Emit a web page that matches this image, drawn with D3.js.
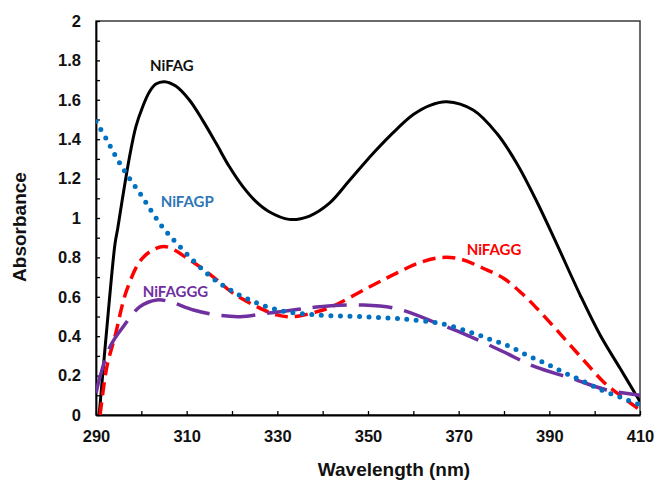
<!DOCTYPE html>
<html>
<head>
<meta charset="utf-8">
<script src="https://cdn.jsdelivr.net/npm/d3@7"></script>
<style>
  html, body { margin: 0; padding: 0; background: #fff; }
  svg { display: block; }
</style>
</head>
<body>
<svg id="chart" width="655" height="481"></svg>
<script>
// Absorption spectra of the four nickel complexes (wavelength in nm, absorbance)
const nifagWl  = [290.7, 292.7, 294.2, 294.8, 295.9, 297.4, 298.8, 300.3, 301.8, 303.2, 305.1, 307.6, 310.6, 313.5, 316.5, 319.4, 322.4, 325.3, 328.2, 332.6, 337.1, 341.5, 345.9, 351.2, 356.3, 360, 363.7, 367.4, 373.2, 378.4, 382.8, 387.2, 391.6, 396.8, 401.2, 405.6, 410];
const nifagAbs = [0, 0.52, 0.87, 0.948, 1.108, 1.311, 1.464, 1.565, 1.641, 1.68, 1.692, 1.67, 1.599, 1.497, 1.379, 1.261, 1.159, 1.083, 1.032, 0.993, 1.01, 1.075, 1.19, 1.33, 1.45, 1.525, 1.572, 1.59, 1.548, 1.43, 1.278, 1.085, 0.87, 0.609, 0.406, 0.237, 0.068];

const nifaggWl  = [290.9, 292.4, 294.2, 296.8, 300.4, 305, 310.7, 315.9, 320.3, 325.5, 329.9, 333.5, 338.7, 341.6, 350.4, 356.3, 361, 365.9, 370.3, 375.4, 379.9, 383.9, 387.6, 391.3, 394.6, 398.2, 401.9, 405.6, 410];
const nifaggAbs = [0, 0.245, 0.40, 0.635, 0.80, 0.855, 0.787, 0.70, 0.617, 0.55, 0.508, 0.499, 0.524, 0.545, 0.651, 0.72, 0.77, 0.799, 0.792, 0.745, 0.694, 0.618, 0.533, 0.44, 0.355, 0.262, 0.169, 0.10, 0.025];

const nifagpWl  = [290, 292.4, 294.6, 297.1, 299.7, 302.3, 304.8, 307.6, 312.6, 316, 319.6, 323.6, 327.7, 332.1, 338.7, 349, 356.3, 360, 365.9, 372.9, 377.3, 381, 385, 389.4, 393.5, 397.7, 401.9, 406.3, 410];
const nifagpAbs = [1.49, 1.396, 1.303, 1.21, 1.125, 1.032, 0.95, 0.877, 0.758, 0.69, 0.635, 0.587, 0.55, 0.524, 0.508, 0.499, 0.49, 0.482, 0.465, 0.418, 0.381, 0.35, 0.305, 0.259, 0.213, 0.169, 0.123, 0.085, 0.05];

const nifagggWl  = [290, 290.9, 293.1, 296, 299.7, 303.4, 306.3, 311.5, 316.6, 321.8, 327.7, 333.5, 339.4, 349, 356.3, 365.9, 371.8, 379.5, 386.8, 394.9, 402.7, 410];
const nifagggAbs = [0.11, 0.195, 0.347, 0.448, 0.55, 0.584, 0.575, 0.533, 0.508, 0.499, 0.516, 0.533, 0.55, 0.558, 0.54, 0.46, 0.406, 0.325, 0.245, 0.186, 0.127, 0.10];

// Axis ticks
const xTicks = [290, 300, 310, 320, 330, 340, 350, 360, 370, 380, 390, 400, 410];
const xTickLabels = [290, 310, 330, 350, 370, 390, 410];
const yTicks = [0, 0.1, 0.2, 0.3, 0.4, 0.5, 0.6, 0.7, 0.8, 0.9, 1, 1.1, 1.2, 1.3, 1.4, 1.5, 1.6, 1.7, 1.8, 1.9, 2];
const yTickLabels = [0, 0.2, 0.4, 0.6, 0.8, 1, 1.2, 1.4, 1.6, 1.8, 2];

const seriesNames = ["NiFAG", "NiFAGG", "NiFAGP", "NiFAGGG"];

const W = 655, H = 481;
const margin = { left: 96, right: 15, top: 21, bottom: 66 };
const iw = W - margin.left - margin.right;
const ih = H - margin.top - margin.bottom;

const svg = d3.select("#chart");
const g = svg.append("g").attr("transform", `translate(${margin.left},${margin.top})`);

const x = d3.scaleLinear().domain([290, 410]).range([0, iw]);
const y = d3.scaleLinear().domain([0, 2]).range([ih, 0]);

svg.append("defs").append("clipPath").attr("id", "plotClip")
  .append("rect").attr("x", 0).attr("y", 0).attr("width", iw).attr("height", ih);

// Plot frame (top and right sides)
g.append("rect")
  .attr("x", 0).attr("y", 0).attr("width", iw).attr("height", ih)
  .attr("fill", "none").attr("stroke", "#3a3a3a").attr("stroke-width", 1.5);

const tickFont = "'Liberation Sans', Arial, sans-serif";

// Y axis: minor ticks every 0.1, labels every 0.2
const yAxis = d3.axisLeft(y)
  .tickValues(yTicks)
  .tickSizeInner(-4).tickSizeOuter(0).tickPadding(15)
  .tickFormat(d => yTickLabels.some(v => Math.abs(v - d) < 1e-9) ? String(+d.toFixed(1)) : "");
const gy = g.append("g").call(yAxis);

// X axis: ticks every 10 nm, labels every 20 nm
const xAxis = d3.axisBottom(x)
  .tickValues(xTicks)
  .tickSizeInner(-4).tickSizeOuter(0).tickPadding(15)
  .tickFormat(d => xTickLabels.includes(d) ? String(d) : "");
const gx = g.append("g").attr("transform", `translate(0,${ih})`).call(xAxis);

[gx, gy].forEach(ax => {
  ax.select(".domain").attr("stroke", "#000").attr("stroke-width", 1.8);
  ax.selectAll(".tick line").attr("stroke", "#000").attr("stroke-width", 1.3);
  ax.selectAll(".tick text")
    .attr("font-family", tickFont).attr("font-weight", "bold")
    .attr("font-size", 16.5).attr("fill", "#111");
});

// Axis titles
svg.append("text")
  .attr("x", 394).attr("y", 476)
  .attr("text-anchor", "middle")
  .attr("font-family", tickFont).attr("font-weight", "bold").attr("font-size", 19)
  .attr("fill", "#111")
  .text("Wavelength (nm)");

svg.append("text")
  .attr("transform", "translate(26,227) rotate(-90)")
  .attr("text-anchor", "middle")
  .attr("font-family", tickFont).attr("font-weight", "bold").attr("font-size", 19)
  .attr("fill", "#111")
  .text("Absorbance");

// Spectra
const line = d3.line()
  .x(d => x(d[0]))
  .y(d => y(d[1]))
  .curve(d3.curveCatmullRom.alpha(0.5));

const zip = (a, b) => a.map((v, i) => [v, b[i]]);

const plot = g.append("g").attr("clip-path", "url(#plotClip)");

const series = [
  { name: seriesNames[0], data: zip(nifagWl, nifagAbs),     color: "#000000", width: 3,   dash: null,     cap: "butt" },
  { name: seriesNames[1], data: zip(nifaggWl, nifaggAbs),   color: "#ff0000", width: 3.5, dash: "13,7",   cap: "butt" },
  { name: seriesNames[3], data: zip(nifagggWl, nifagggAbs), color: "#7030a0", width: 3.5, dash: "34,12",  cap: "butt" },
  { name: seriesNames[2], data: zip(nifagpWl, nifagpAbs),   color: "#0070c0", width: 5,   dash: "0,9.5",  cap: "round" }
];

series.forEach(s => {
  plot.append("path")
    .datum(s.data)
    .attr("d", line)
    .attr("fill", "none")
    .attr("stroke", s.color)
    .attr("stroke-width", s.width)
    .attr("stroke-linecap", s.cap)
    .attr("stroke-linejoin", "round")
    .attr("stroke-dasharray", s.dash);
});

// Series labels
const labelFont = "Lato, 'Open Sans', sans-serif";
const labels = [
  { text: seriesNames[0], x: 150,   y: 71,  color: "#111111" },
  { text: seriesNames[2], x: 160.7, y: 207, color: "#2e75b6" },
  { text: seriesNames[3], x: 142.7, y: 297, color: "#7030a0" },
  { text: seriesNames[1], x: 466.7, y: 255, color: "#ff0000" }
];
svg.selectAll(".series-label")
  .data(labels)
  .join("text")
  .attr("class", "series-label")
  .attr("x", d => d.x).attr("y", d => d.y)
  .attr("font-family", labelFont).attr("font-weight", "bold").attr("font-size", 15)
  .attr("fill", d => d.color)
  .text(d => d.text);
</script>
</body>
</html>
